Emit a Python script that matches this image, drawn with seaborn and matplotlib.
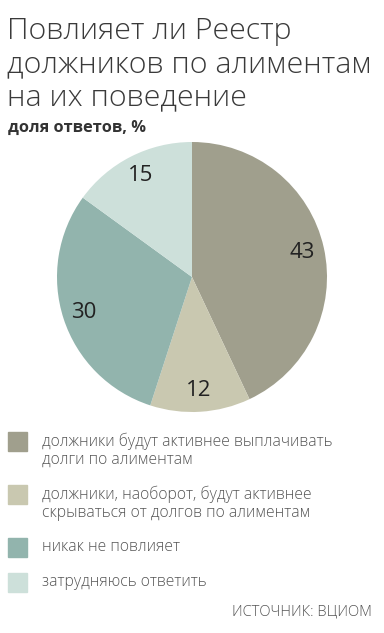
import matplotlib
matplotlib.use("Agg")
import matplotlib.pyplot as plt
import seaborn as sns
from matplotlib.patches import Rectangle

# данные
answers = [
    "должники будут активнее выплачивать\nдолги по алиментам",
    "должники, наоборот, будут активнее\nскрываться от долгов по алиментам",
    "никак не повлияет",
    "затрудняюсь ответить",
]
shares = [43, 12, 30, 15]
colors = ["#a09f8d", "#c9c8b0", "#92b4ad", "#cde0da"]

sns.set_theme(style="white")
plt.rcParams['font.family'] = ['Open Sans', 'DejaVu Sans']

fig = plt.figure(figsize=(3.84, 6.33), dpi=100)
W, H = 384, 633

# заголовок
title_lines = ["Повлияет ли Реестр", "должников по алиментам", "на их поведение"]
for i, line in enumerate(title_lines):
    fig.text(7 / W, 1 - (39 + i * 33) / H, line, fontsize=21.8, fontweight='light',
             color='#3a3a3a', ha='left', va='baseline')
fig.text(8 / W, 1 - 132 / H, "доля ответов, %", fontsize=11.8, fontweight='bold',
         color='#333333', ha='left', va='baseline')

# круговая диаграмма
ax = fig.add_axes([57 / W, 1 - 412 / H, 270 / W, 270 / H])
wedges, texts = ax.pie(shares, colors=sns.color_palette(colors), startangle=90,
                       counterclock=False, labels=[str(v) for v in shares],
                       labeldistance=0.84, radius=1,
                       wedgeprops=dict(linewidth=0),
                       textprops=dict(fontsize=16, color='#222222'))
for t in texts:
    t.set_ha('center')
    t.set_va('center')
ax.set_xlim(-1, 1)
ax.set_ylim(-1, 1)
ax.set_aspect('equal')
ax.axis('off')

# легенда
tops = [432, 485, 538, 573]
for top, label, c in zip(tops, answers, colors):
    fig.patches.append(Rectangle((8 / W, 1 - (top + 19) / H), 19 / W, 19 / H,
                                 transform=fig.transFigure, color=c))
    fig.text(42 / W, 1 - (top + 1) / H, label, fontsize=11.3, fontweight='light',
             color='#555555', ha='left', va='top', linespacing=1.15)

fig.text(372 / W, 1 - 615 / H, "ИСТОЧНИК: ВЦИОМ", fontsize=10.6, fontweight='light',
         color='#555555', ha='right', va='baseline')

fig.savefig("out.png", dpi=100, facecolor='white')
